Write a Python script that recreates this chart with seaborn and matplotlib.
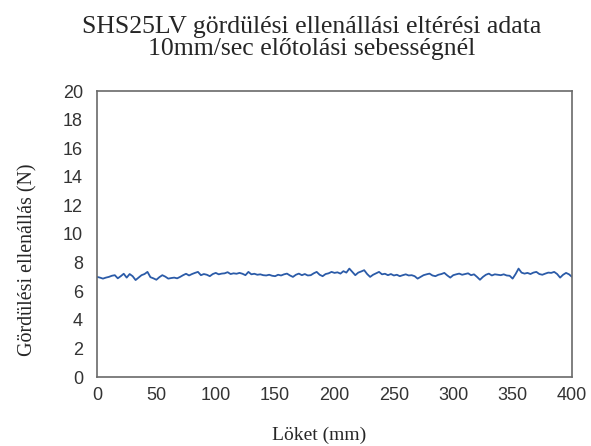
import matplotlib
matplotlib.use("Agg")
import matplotlib.pyplot as plt
import seaborn as sns
import pandas as pd

stroke_mm = [0, 2.5, 5, 7.5, 10, 12.5, 15, 17.5, 20, 22.5, 25, 27.5, 30, 32.5, 35, 37.5,
             40, 42.5, 45, 47.5, 50, 52.5, 55, 57.5, 60, 62.5, 65, 67.5, 70, 72.5, 75, 77.5,
             80, 82.5, 85, 87.5, 90, 92.5, 95, 97.5, 100, 102.5, 105, 107.5, 110, 112.5, 115, 117.5,
             120, 122.5, 125, 127.5, 130, 132.5, 135, 137.5, 140, 142.5, 145, 147.5, 150, 152.5, 155, 157.5,
             160, 162.5, 165, 167.5, 170, 172.5, 175, 177.5, 180, 182.5, 185, 187.5, 190, 192.5, 195, 197.5,
             200, 202.5, 205, 207.5, 210, 212.5, 215, 217.5, 220, 222.5, 225, 227.5, 230, 232.5, 235, 237.5,
             240, 242.5, 245, 247.5, 250, 252.5, 255, 257.5, 260, 262.5, 265, 267.5, 270, 272.5, 275, 277.5,
             280, 282.5, 285, 287.5, 290, 292.5, 295, 297.5, 300, 302.5, 305, 307.5, 310, 312.5, 315, 317.5,
             320, 322.5, 325, 327.5, 330, 332.5, 335, 337.5, 340, 342.5, 345, 347.5, 350, 352.5, 355, 357.5,
             360, 362.5, 365, 367.5, 370, 372.5, 375, 377.5, 380, 382.5, 385, 387.5, 390, 392.5, 395, 397.5, 400]

resistance_n = [7.00, 6.95, 6.88, 6.95, 7.00, 7.08, 7.12, 6.90, 7.05, 7.22, 6.95, 7.20, 7.05, 6.78, 6.95, 7.12,
                7.20, 7.35, 6.98, 6.90, 6.80, 6.98, 7.12, 7.02, 6.88, 6.92, 6.95, 6.90, 7.00, 7.12, 7.22, 7.10,
                7.20, 7.28, 7.35, 7.12, 7.20, 7.15, 7.05, 7.20, 7.28, 7.18, 7.23, 7.25, 7.33, 7.20, 7.25, 7.22,
                7.28, 7.22, 7.12, 7.35, 7.18, 7.22, 7.15, 7.18, 7.12, 7.10, 7.15, 7.08, 7.05, 7.15, 7.10, 7.18,
                7.23, 7.10, 7.00, 7.15, 7.23, 7.12, 7.20, 7.10, 7.12, 7.25, 7.35, 7.15, 7.05, 7.20, 7.25, 7.35,
                7.28, 7.32, 7.23, 7.40, 7.30, 7.58, 7.35, 7.12, 7.30, 7.38, 7.47, 7.20, 7.00, 7.15, 7.25, 7.35,
                7.18, 7.22, 7.12, 7.20, 7.10, 7.15, 7.05, 7.12, 7.18, 7.10, 7.12, 7.05, 6.88, 7.00, 7.12, 7.18,
                7.23, 7.10, 7.05, 7.15, 7.20, 7.28, 7.10, 6.95, 7.12, 7.18, 7.23, 7.15, 7.20, 7.25, 7.12, 7.18,
                7.00, 6.80, 7.00, 7.15, 7.23, 7.10, 7.18, 7.15, 7.12, 7.18, 7.10, 7.08, 6.88, 7.20, 7.58, 7.30,
                7.23, 7.28, 7.20, 7.30, 7.35, 7.20, 7.15, 7.23, 7.30, 7.28, 7.35, 7.20, 6.95, 7.15, 7.28, 7.18, 7.00]

x_ticks = [0, 50, 100, 150, 200, 250, 300, 350, 400]
y_ticks = [0, 2, 4, 6, 8, 10, 12, 14, 16, 18, 20]

title_text = "SHS25LV gördülési ellenállási eltérési adata\n10mm/sec előtolási sebességnél"
x_label = "Löket (mm)"
y_label = "Gördülési ellenállás (N)"

df = pd.DataFrame({"stroke": stroke_mm, "resistance": resistance_n})

sns.set_style("white")
plt.rcParams["font.family"] = ["Liberation Sans", "DejaVu Sans"]

fig = plt.figure(figsize=(5.91, 4.46), dpi=100)
ax = fig.add_axes([97 / 591, 1 - 377 / 446, (572 - 97) / 591, (377 - 91) / 446])

sns.lineplot(data=df, x="stroke", y="resistance", ax=ax, color="#2b5ba8", linewidth=1.3)

ax.set_xlim(0, 400)
ax.set_ylim(0, 20)
ax.set_xticks(x_ticks)
ax.set_yticks(y_ticks)
ax.tick_params(axis="both", direction="in", length=4, width=0.8, color="#444444",
               labelsize=13, labelcolor="#333333", top=False, right=False)
ax.tick_params(axis="y", pad=10)
ax.tick_params(axis="x", pad=7)
for s in ax.spines.values():
    s.set_visible(True)
    s.set_color("#6a6a6a")
    s.set_linewidth(1.2)

ax.set_xlabel("")
ax.set_ylabel("")
serif = ["Liberation Serif", "DejaVu Serif"]
fig.text(312 / 591, 1 - 38 / 446, title_text, ha="center", va="center", fontsize=18.5,
         family=serif, linespacing=0.95)
fig.text(319 / 591, 1 - 435 / 446, x_label, ha="center", va="center", fontsize=14, family=serif)
fig.text(28 / 591, 1 - 260 / 446, y_label, ha="center", va="center", rotation=90,
         fontsize=14.4, family=serif)

fig.savefig("out.png", dpi=100)
